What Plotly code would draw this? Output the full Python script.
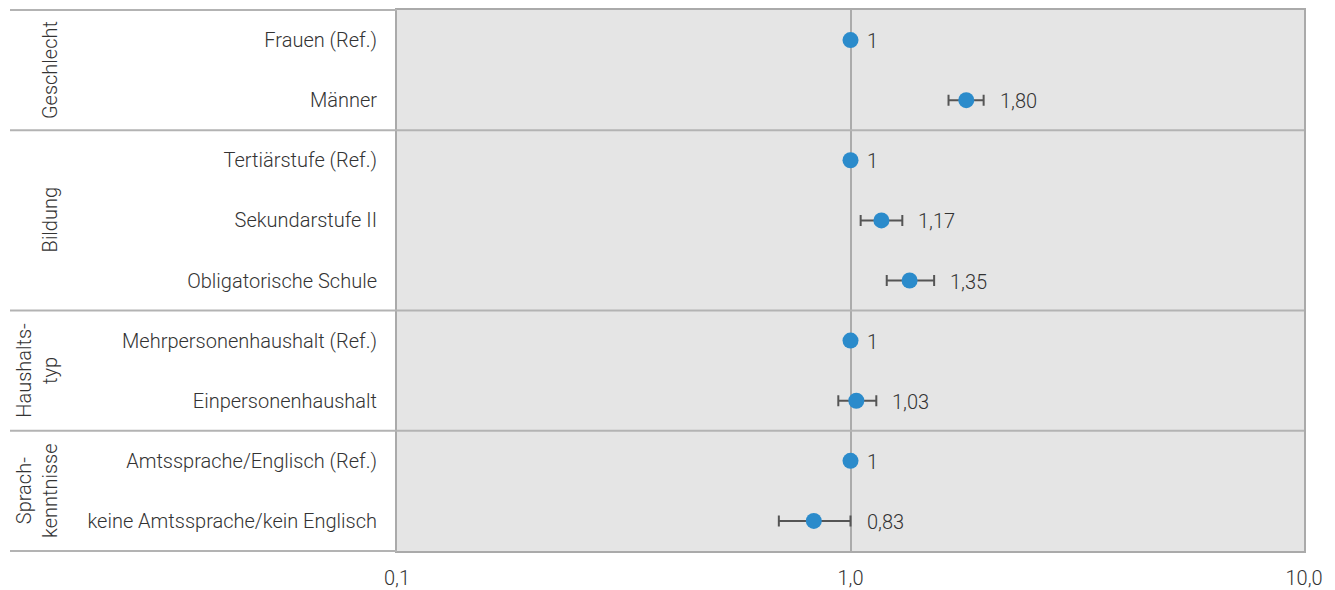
import math
import plotly.graph_objects as go

categories = ["Frauen (Ref.)", "Männer", "Tertiärstufe (Ref.)", "Sekundarstufe II",
              "Obligatorische Schule", "Mehrpersonenhaushalt (Ref.)", "Einpersonenhaushalt",
              "Amtssprache/Englisch (Ref.)", "keine Amtssprache/kein Englisch"]
odds = [1.0, 1.80, 1.0, 1.17, 1.35, 1.0, 1.03, 1.0, 0.83]
ci_low = [None, 1.645, None, 1.053, 1.202, None, 0.940, None, 0.695]
ci_high = [None, 1.966, None, 1.301, 1.529, None, 1.140, None, 1.0]
value_labels = ["1", "1,80", "1", "1,17", "1,35", "1", "1,03", "1", "0,83"]
groups = ["Geschlecht", "Bildung", "Haushalts-<br>typ", "Sprach-<br>kenntnisse"]
group_rows = [(0, 1), (2, 4), (5, 6), (7, 8)]
x_tickvals = [0.1, 1, 10]
x_ticktext = ["0,1", "1,0", "10,0"]

FONT = "Roboto"
TXT = "#333333"
FS = 20
W, H = 1335, 590
L, R, T, B = 397, 31, 10, 39
PW = W - L - R

def px_to_paper(px):
    return (px - L) / PW

plus = [None if h is None else h - v for v, h in zip(odds, ci_high)]
minus = [None if lo is None else v - lo for v, lo in zip(odds, ci_low)]

fig = go.Figure()
fig.add_trace(go.Scatter(
    x=odds, y=categories, mode="markers",
    marker=dict(size=16, color="#2b8bcb"),
    error_x=dict(type="data", symmetric=False, array=plus, arrayminus=minus,
                 color="#555555", thickness=2, width=5.5),
    showlegend=False, hoverinfo="skip",
))

for v, h, lab, cat in zip(odds, ci_high, value_labels, categories):
    xr = h if h is not None else v
    fig.add_annotation(x=math.log10(xr), y=cat, text=lab, showarrow=False,
                       xanchor="left", xshift=14, yshift=-1,
                       font=dict(family=FONT, size=FS, color=TXT, weight=300))

for g, (a, b) in zip(groups, group_rows):
    fig.add_annotation(x=px_to_paper(64), xref="paper", y=(a + b) / 2, yref="y",
                       text=g, textangle=-90, showarrow=False,
                       xanchor="right", yanchor="middle",
                       font=dict(family=FONT, size=FS, color=TXT, weight=300))

line_col = "#b3b3b3"
for yb in [1.5, 4.5, 6.5]:
    fig.add_shape(type="line", xref="paper", yref="y",
                  x0=px_to_paper(10), x1=1, y0=yb, y1=yb,
                  line=dict(color=line_col, width=2), layer="above")
for yb in [0, 1]:
    fig.add_shape(type="line", xref="paper", yref="paper",
                  x0=px_to_paper(10), x1=px_to_paper(397), y0=yb, y1=yb,
                  line=dict(color=line_col, width=2), layer="above")

fig.update_layout(
    width=W, height=H,
    margin=dict(l=L, r=R, t=T, b=B, autoexpand=False),
    paper_bgcolor="white", plot_bgcolor="#e5e5e5",
    font=dict(family=FONT, size=FS, color=TXT, weight=300),
    xaxis=dict(type="log", range=[-1, 1], tickvals=x_tickvals, ticktext=x_ticktext,
               showgrid=True, gridcolor="#ababab", gridwidth=1.5,
               showline=True, mirror=True, linecolor="#aaaaaa", linewidth=2,
               zeroline=False, ticks="", ticklabelstandoff=8, automargin=False,
               tickfont=dict(family=FONT, size=FS, color=TXT, weight=300)),
    yaxis=dict(type="category", categoryorder="array", categoryarray=categories,
               range=[8.5, -0.5], showgrid=False, zeroline=False,
               showline=True, mirror=True, linecolor="#aaaaaa", linewidth=2,
               ticks="", ticklabelstandoff=14, automargin=False,
               tickfont=dict(family=FONT, size=FS, color=TXT, weight=300)),
)

fig.write_html("out.html", config={"displayModeBar": False},
               post_script="document.body.style.margin='0';document.body.style.overflow='hidden';")
